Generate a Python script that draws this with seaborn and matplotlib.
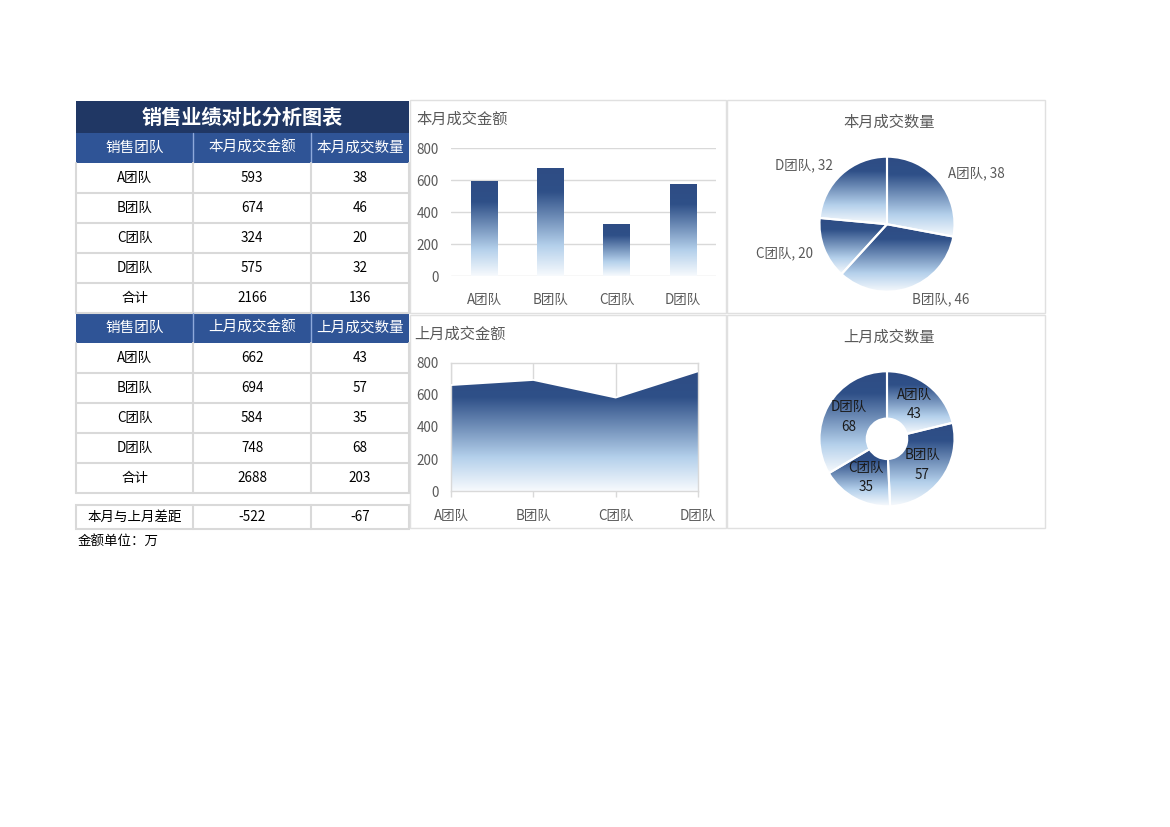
import numpy as np
import matplotlib
matplotlib.use("Agg")
import matplotlib.pyplot as plt
from matplotlib.patches import Rectangle
from matplotlib.colors import LinearSegmentedColormap
import seaborn as sns

# ---------------- data ----------------
teams = ["A团队", "B团队", "C团队", "D团队"]
amount_this = [593, 674, 324, 575]
count_this = [38, 46, 20, 32]
amount_last = [662, 694, 584, 748]
count_last = [43, 57, 35, 68]
yticks_amount = [0, 200, 400, 600, 800]

main_title = "销售业绩对比分析图表"
hdr_this = ["销售团队", "本月成交金额", "本月成交数量"]
hdr_last = ["销售团队", "上月成交金额", "上月成交数量"]
total_label = "合计"
diff_label = "本月与上月差距"
unit_note = "金额单位：万"
chart_titles = ["本月成交金额", "本月成交数量", "上月成交金额", "上月成交数量"]

# ---------------- setup ----------------
sns.set_theme(style="white")
plt.rcParams["font.family"] = ["Noto Sans CJK SC", "DejaVu Sans"]
plt.rcParams["axes.unicode_minus"] = False

W, H = 1170, 827
fig = plt.figure(figsize=(W / 100, H / 100), dpi=100)
fig.patch.set_facecolor("white")


def rect(x0, y0, x1, y1):
    return [x0 / W, 1 - y1 / H, (x1 - x0) / W, (y1 - y0) / H]


NAVY = "#203764"
BLUE = "#2F5496"
GRID = "#D9D9D9"
TXT = "#595959"
cmap = LinearSegmentedColormap.from_list(
    "grad", [(0, "#2E4C84"), (0.22, "#2F5088"), (0.72, "#B4D0EB"), (1, "#F7FAFD")])
grad = np.linspace(0, 1, 256)[:, None]


def gradient(ax, extent, clip, transform=None, z=1):
    im = ax.imshow(grad, cmap=cmap, vmin=0, vmax=1, extent=extent, origin="upper",
                   aspect="auto", interpolation="bilinear", zorder=z)
    if transform is None:
        im.set_clip_path(clip)
    else:
        im.set_clip_path(clip, transform)
    return im


# ---------------- overlay (table + panels) ----------------
ov = fig.add_axes([0, 0, 1, 1])
ov.set_xlim(0, W)
ov.set_ylim(H, 0)
ov.axis("off")

cols = [76, 193, 311, 409]
col_c = [(cols[i] + cols[i + 1]) / 2 for i in range(3)]
ROW = 30

ov.add_patch(Rectangle((76, 101), 333, 32, fc=NAVY, ec="none"))
ov.text((76 + 409) / 2, 117, main_title, color="white", fontsize=14.5,
        fontweight="bold", ha="center", va="center")


def block(y0, header, amounts, counts):
    ov.add_patch(Rectangle((76, y0), 333, ROW, fc=BLUE, ec="none"))
    for x in cols[1:3]:
        ov.plot([x, x], [y0, y0 + ROW], color="#8EA9DB", lw=1)
    for c, h in zip(col_c, header):
        ov.text(c, y0 + ROW / 2, h, color="white", fontsize=10.5,
                ha="center", va="center")
    rows = list(zip(teams, amounts, counts)) + [(total_label, sum(amounts), sum(counts))]
    for i, r in enumerate(rows):
        yt = y0 + ROW * (i + 1)
        for c, v in zip(col_c, r):
            ov.text(c, yt + ROW / 2, str(v), color="black", fontsize=9.7,
                    ha="center", va="center")
        ov.plot([76, 409], [yt + ROW, yt + ROW], color=GRID, lw=1.5)
    ybot = y0 + ROW * (len(rows) + 1)
    for x in cols:
        ov.plot([x, x], [y0 + ROW, ybot], color=GRID, lw=1.5)


block(133, hdr_this, amount_this, count_this)
block(313, hdr_last, amount_last, count_last)

# difference row
d0, d1 = 505, 529
ov.add_patch(Rectangle((76, d0), 333, d1 - d0, fc="white", ec=GRID, lw=1.5))
for x in cols[1:3]:
    ov.plot([x, x], [d0, d1], color=GRID, lw=1.5)
diff_vals = [diff_label, sum(amount_this) - sum(amount_last), sum(count_this) - sum(count_last)]
for c, v in zip(col_c, diff_vals):
    ov.text(c, (d0 + d1) / 2, str(v), color="black", fontsize=9.7, ha="center", va="center")
ov.text(78, 541, unit_note, color="black", fontsize=9.7, ha="left", va="center")

# panel borders
for (x0, y0, x1, y1) in [(410, 100, 726, 313), (727, 100, 1045, 313),
                         (410, 315, 726, 528), (727, 315, 1045, 528)]:
    ov.add_patch(Rectangle((x0, y0), x1 - x0, y1 - y0, fc="none", ec="#E0E0E0", lw=1))

ov.text(416, 119, chart_titles[0], color=TXT, fontsize=11, ha="left", va="center")
ov.text(889, 122, chart_titles[1], color=TXT, fontsize=11, ha="center", va="center")
ov.text(414, 334, chart_titles[2], color=TXT, fontsize=11, ha="left", va="center")
ov.text(889, 337, chart_titles[3], color=TXT, fontsize=11, ha="center", va="center")

# ---------------- bar chart ----------------
ax1 = fig.add_axes(rect(451, 148, 716, 276))
ax1.set_facecolor("none")
sns.barplot(x=teams, y=amount_this, ax=ax1, width=0.4, color="#2F5088", saturation=1)
ax1.set_ylim(0, 800)
ax1.set_yticks(yticks_amount)
ax1.grid(axis="y", color=GRID, lw=1)
ax1.set_axisbelow(True)
for s in ax1.spines.values():
    s.set_visible(False)
ax1.set_xlabel("")
ax1.set_ylabel("")
ax1.tick_params(axis="y", length=0, pad=9, labelcolor=TXT, labelsize=9.7)
ax1.tick_params(axis="x", length=0, pad=12, labelcolor=TXT, labelsize=9.7)
xl = ax1.get_xlim()
for p in list(ax1.patches):
    x, w, h = p.get_x(), p.get_width(), p.get_height()
    p.set_facecolor("none")
    p.set_edgecolor("none")
    gradient(ax1, [x, x + w, 0, h], p, z=1)
ax1.set_xlim(xl)
ax1.set_ylim(0, 800)

# ---------------- area chart ----------------
ax2 = fig.add_axes(rect(451, 363, 698, 491))
ax2.set_facecolor("none")
xpos = np.arange(len(teams))
poly = ax2.fill_between(xpos, amount_last, 0, facecolor="none", edgecolor="none")
gradient(ax2, [0, len(teams) - 1, 0, max(amount_last)], poly.get_paths()[0], ax2.transData, z=1)
sns.lineplot(x=xpos, y=amount_last, ax=ax2, color="white", lw=1.3, zorder=3)
ax2.set_xlim(0, len(teams) - 1)
ax2.set_ylim(0, 800)
ax2.set_xticks(xpos)
ax2.set_xticklabels(teams)
ax2.set_yticks(yticks_amount)
ax2.grid(axis="x", color=GRID, lw=1)
ax2.grid(axis="y", visible=False)
ax2.set_axisbelow(True)
for s in ax2.spines.values():
    s.set_color(GRID)
    s.set_linewidth(1)
ax2.set_xlabel("")
ax2.set_ylabel("")
ax2.tick_params(axis="y", length=0, pad=9, labelcolor=TXT, labelsize=9.7)
ax2.tick_params(axis="x", bottom=True, length=4, width=1, color=GRID, direction="out",
                pad=9, labelcolor=TXT, labelsize=9.7)

# ---------------- pie chart ----------------
R = 67.5
half = R * 1.25
cx, cy = 887, 224.2
ax3 = fig.add_axes(rect(cx - half, cy - half, cx + half, cy + half))
wedges, texts = ax3.pie(count_this, labels=[f"{t}, {v}" for t, v in zip(teams, count_this)],
                        startangle=90, counterclock=False, labeldistance=1.18,
                        wedgeprops=dict(edgecolor="white", linewidth=1.5),
                        textprops=dict(color=TXT, fontsize=9.7))
for wdg in wedges:
    ext = wdg.get_path().get_extents()
    wdg.set_facecolor("none")
    gradient(ax3, [ext.x0, ext.x1, ext.y0, ext.y1], wdg, z=0.9)
ax3.set_xlim(-1.25, 1.25)
ax3.set_ylim(-1.25, 1.25)
ax3.set_aspect("equal")
ax3.axis("off")

# ---------------- donut chart ----------------
cx, cy = 887, 438.8
ax4 = fig.add_axes(rect(cx - half, cy - half, cx + half, cy + half))
wedges, texts = ax4.pie(count_last, labels=[f"{t}\n{v}" for t, v in zip(teams, count_last)],
                        startangle=90, counterclock=False, labeldistance=0.65,
                        wedgeprops=dict(width=0.7, edgecolor="white", linewidth=1.5),
                        textprops=dict(color="#1A1A1A", fontsize=9.7, linespacing=1.5))
for t in texts:
    t.set_ha("center")
for wdg in wedges:
    ext = wdg.get_path().get_extents()
    wdg.set_facecolor("none")
    gradient(ax4, [ext.x0, ext.x1, ext.y0, ext.y1], wdg, z=0.9)
ax4.set_xlim(-1.25, 1.25)
ax4.set_ylim(-1.25, 1.25)
ax4.set_aspect("equal")
ax4.axis("off")

fig.savefig("out.png", dpi=100, facecolor="white")
